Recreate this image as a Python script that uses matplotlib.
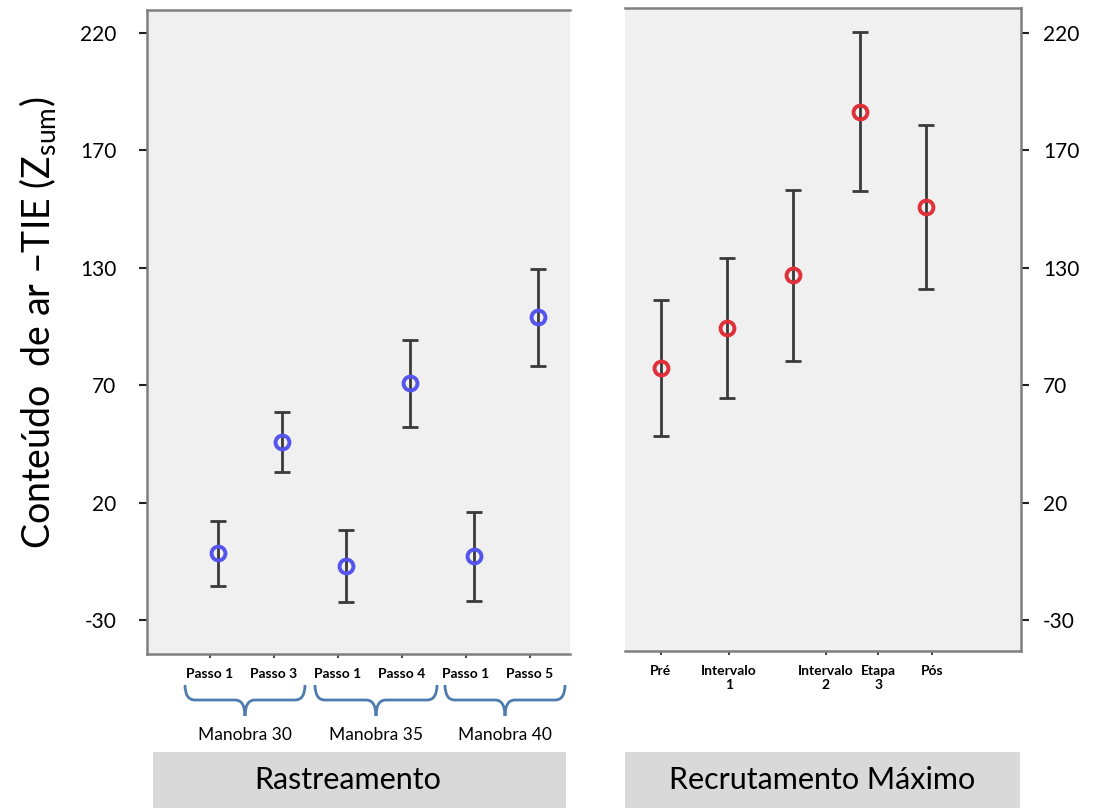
import numpy as np
import matplotlib
matplotlib.use("Agg")
import matplotlib.pyplot as plt
from matplotlib.path import Path
from matplotlib.patches import PathPatch, Rectangle

plt.rcParams['font.family'] = ['Lato', 'DejaVu Sans']
plt.rcParams['mathtext.fontset'] = 'custom'
plt.rcParams['mathtext.rm'] = 'Lato'
plt.rcParams['mathtext.it'] = 'Lato'

# ---- data ----
rast_labels = ['Passo 1', 'Passo 3', 'Passo 1', 'Passo 4', 'Passo 1', 'Passo 5']
rast_mean = [-1.5, 45.8, -7.0, 70.9, -2.7, 99.0]
rast_low = [-15.5, 33.0, -22.3, 52.2, -21.9, 78.2]
rast_high = [12.2, 58.6, 8.3, 89.3, 16.0, 119.5]

manobra_labels = ['Manobra 30', 'Manobra 35', 'Manobra 40']

rec_labels = ['Pré', 'Intervalo\n1', 'Intervalo\n2', 'Etapa\n3', 'Pós']
rec_mean = [77.3, 94.4, 116.9, 186.4, 145.9]
rec_low = [48.4, 64.5, 80.3, 152.7, 111.0]
rec_high = [106.3, 124.2, 153.1, 220.4, 180.8]

ytick_pos = [-30, 20, 70, 120, 170, 220]
ytick_lab = ['-30', '20', '70', '130', '170', '220']

W, H = 1093, 810
fig = plt.figure(figsize=(W / 100, H / 100), dpi=100)

def fx(x):
    return x / W

def fy(y):
    return 1 - y / H

bg = '#f0f0f0'
spc = '#7f7f7f'
ebc = '#3a3a3a'

ax1 = fig.add_axes([fx(147), fy(654), fx(570) - fx(147), fy(10) - fy(654)])
ax2 = fig.add_axes([fx(625), fy(651), fx(1021) - fx(625), fy(8) - fy(651)])

def draw(ax, mean, low, high, color):
    x = np.arange(len(mean))
    mean = np.array(mean)
    err = [mean - np.array(low), np.array(high) - mean]
    ax.errorbar(x, mean, yerr=err, fmt='none', ecolor=ebc, elinewidth=2,
                capsize=6, capthick=2, zorder=2)
    ax.plot(x, mean, 'o', ms=10, mfc='none', mec=color, mew=2.8, zorder=3)
    ax.set_facecolor(bg)
    for s in ax.spines.values():
        s.set_color(spc)
        s.set_linewidth(1.8)
    ax.set_yticks(ytick_pos)
    ax.set_yticklabels(ytick_lab)
    ax.tick_params(axis='y', labelsize=15, length=6, width=1.5, color='#222222')
    ax.tick_params(axis='x', labelsize=10, length=3, width=1.2, color='#222222', pad=7)

draw(ax1, rast_mean, rast_low, rast_high, '#5555ee')
ax1.set_xlim(-1.11, 5.5)
ax1.set_ylim(-44.5, 229.8)
ax1.set_xticks(np.arange(len(rast_labels)) - 0.13)
ax1.set_xticklabels(rast_labels, fontweight='bold')
ax1.spines['right'].set_visible(False)
ax1.tick_params(axis='y', pad=16)
ax1.set_ylabel('Conteúdo  de ar \u2013TIE (Z$_{\\mathrm{sum}}$)', fontsize=27)
ax1.yaxis.set_label_coords(-0.21, 0.515)

draw(ax2, rec_mean, rec_low, rec_high, '#e0303a')
ax2.set_xlim(-0.54, 5.43)
ax2.set_ylim(-43.2, 230.6)
ax2.set_xticks([0, 1.03, 2.49, 3.28, 4.09])
ax2.set_xticklabels(rec_labels, fontweight='bold', va='top')
ax2.spines['left'].set_visible(False)
ax2.yaxis.tick_right()
ax2.tick_params(axis='y', left=False, right=True, pad=10)

# braces under the Rastreamento pairs
def brace(x0, x1, ytop=685, ymid=700, ytip=716, r=10):
    xc = (x0 + x1) / 2
    pts = [(x0, ytop), (x0, ymid), (x0 + r, ymid), (xc - r, ymid), (xc, ymid), (xc, ytip),
           (xc, ytip), (xc, ymid), (xc + r, ymid), (x1 - r, ymid), (x1, ymid), (x1, ytop)]
    codes = [Path.MOVETO, Path.CURVE3, Path.CURVE3, Path.LINETO, Path.CURVE3, Path.CURVE3,
             Path.MOVETO, Path.CURVE3, Path.CURVE3, Path.LINETO, Path.CURVE3, Path.CURVE3]
    p = Path([(fx(a), fy(b)) for a, b in pts], codes)
    fig.add_artist(PathPatch(p, fc='none', ec='#4f7cb0', lw=2, transform=fig.transFigure))

for (x0, x1), lab in zip([(185, 305), (315, 437), (445, 565)], manobra_labels):
    brace(x0, x1)
    fig.text(fx((x0 + x1) / 2), fy(735), lab, ha='center', va='center', fontsize=12.5)

# grey group boxes
for (x0, x1), xt, lab in zip([(153, 566), (625, 1020)], [348, 822],
                             ['Rastreamento', 'Recrutamento Máximo']):
    fig.add_artist(Rectangle((fx(x0), fy(808)), fx(x1) - fx(x0), fy(752) - fy(808),
                             transform=fig.transFigure, fc='#d9d9d9', ec='none'))
    fig.text(fx(xt), fy(780), lab, ha='center', va='center', fontsize=22)

fig.savefig('out.png', dpi=100)
